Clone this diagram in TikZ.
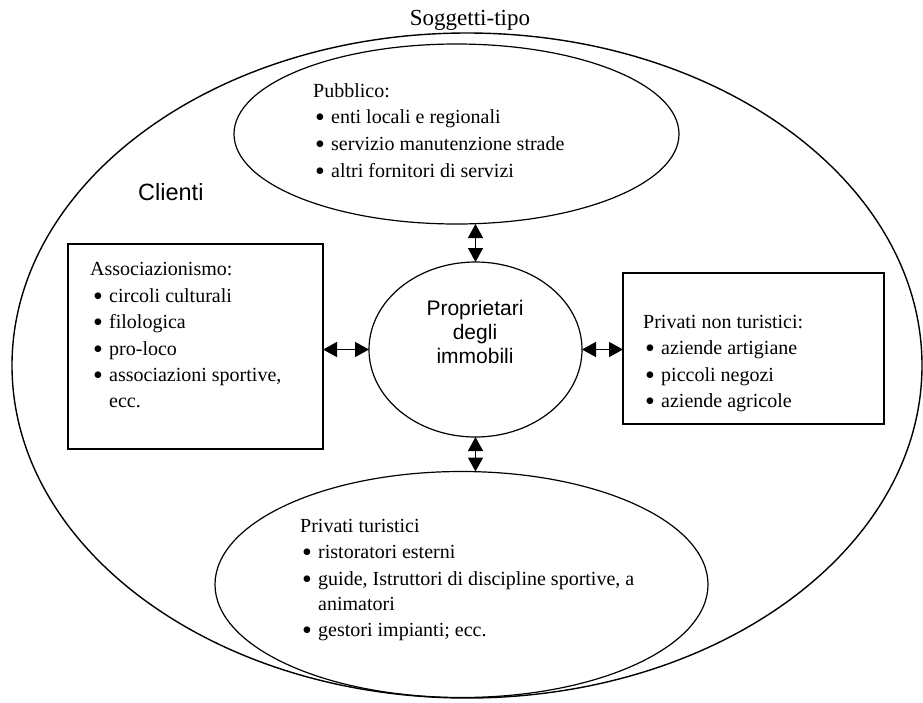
\documentclass[tikz,border=0pt]{standalone}
\usepackage{fontspec}
\usepackage{graphicx}
\setmainfont{Liberation Serif}
\newfontfamily\arialfont{Liberation Sans}
\usetikzlibrary{shapes.geometric,arrows.meta}

% bullet item with a fixed indent (bullet box smashed so lines keep their height)
\newcommand{\bul}{\smash{\raisebox{-0.17em}{\scalebox{1.4}{\textbullet}}}}
\newcommand{\itm}[1]{\makebox[16pt][l]{\bul}#1}
\newcommand{\cont}[1]{\hspace*{16pt}#1}

\begin{document}
\begin{tikzpicture}[x=1pt,y=-1pt,
  shapeline/.style={draw=black,line width=1.2pt,inner sep=0pt,outer sep=0pt},
  oval/.style={shapeline,ellipse},
  box/.style={shapeline,rectangle},
  txt/.style={anchor=base west,inner sep=0pt,font=\fontsize{20}{24}\selectfont},
  link/.style={line width=1.4pt,{Triangle[length=14pt,width=15pt]}-{Triangle[length=14pt,width=15pt]}}
]
\useasboundingbox (0,0) rectangle (923,702);

% title above the outer oval
\node[anchor=base,inner sep=0pt,font=\fontsize{23}{26}\selectfont] (title) at (470,25) {Soggetti-tipo};

% outer oval: customers
\node[oval,line width=1.4pt,minimum width=910pt,minimum height=665pt] (outer) at (467,365.5) {};
\node[anchor=base west,inner sep=0pt,font=\arialfont\fontsize{23.5}{26}\selectfont] (clienti) at (138,200) {Clienti};

% top oval: public bodies
\node[oval,minimum width=445pt,minimum height=180pt] (pub) at (456.5,134) {};
\node[txt] (pub0) at (313,97) {Pubblico:};
\node[txt] (pub1) at (315,123) {\itm{enti locali e regionali}};
\node[txt] (pub2) at (315,150) {\itm{servizio manutenzione strade}};
\node[txt] (pub3) at (315,177) {\itm{altri fornitori di servizi}};

% central oval: owners
\node[oval,minimum width=213pt,minimum height=175pt] (own) at (475.5,349.5) {};
\node[anchor=base,inner sep=0pt,font=\arialfont\fontsize{21}{24}\selectfont] (own1) at (475,315) {Proprietari};
\node[anchor=base,inner sep=0pt,font=\arialfont\fontsize{21}{24}\selectfont] (own2) at (475,339) {degli};
\node[anchor=base,inner sep=0pt,font=\arialfont\fontsize{21}{24}\selectfont] (own3) at (475,363) {immobili};

% left box: associations
\node[box,minimum width=255pt,minimum height=205pt] (assoc) at (195.5,346.5) {};
\node[txt] (as0) at (90,275) {Associazionismo:};
\node[txt] (as1) at (93,302) {\itm{circoli culturali}};
\node[txt] (as2) at (93,328) {\itm{filologica}};
\node[txt] (as3) at (93,355) {\itm{pro-loco}};
\node[txt] (as4) at (93,381) {\itm{associazioni sportive,}};
\node[txt] (as5) at (93,407) {\cont{ecc.}};

% right box: non-tourist private businesses
\node[box,minimum width=261pt,minimum height=151pt] (priv) at (753.5,348.5) {};
\node[txt] (pr0) at (643,328) {Privati non turistici:};
\node[txt] (pr1) at (645,354) {\itm{aziende artigiane}};
\node[txt] (pr2) at (645,381) {\itm{piccoli negozi}};
\node[txt] (pr3) at (645,407) {\itm{aziende agricole}};

% bottom oval: tourist private businesses
\node[oval,minimum width=493pt,minimum height=226pt] (tur) at (461.5,584.5) {};
\node[txt] (tu0) at (300,532) {Privati turistici};
\node[txt] (tu1) at (302,558) {\itm{ristoratori esterni}};
\node[txt] (tu2) at (302,585) {\itm{guide, Istruttori di discipline sportive, a}};
\node[txt] (tu3) at (302,610) {\cont{animatori}};
\node[txt] (tu4) at (302,636) {\itm{gestori impianti; ecc.}};

% two-way links around the owners
\draw[link] (own.north) -- (own.north |- pub.south);
\draw[link] (own.south) -- (own.south |- tur.north);
\draw[link] (own.west) -- (own.west -| assoc.east);
\draw[link] (own.east) -- (own.east -| priv.west);
\end{tikzpicture}
\end{document}
